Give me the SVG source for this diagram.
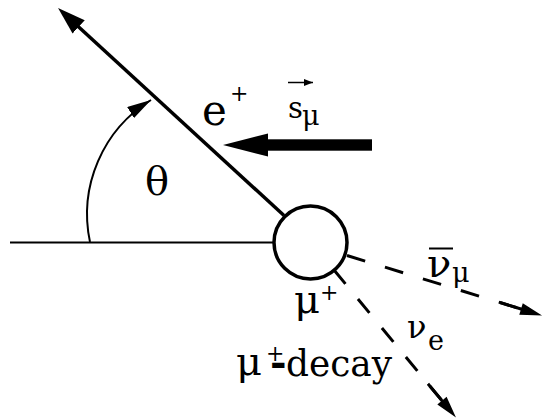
<svg xmlns="http://www.w3.org/2000/svg" width="544" height="420" viewBox="0 0 544 420">
<style>
.t{font-family:'DejaVu Serif',serif;fill:#000}
.ln{fill:none;stroke:#000;stroke-linecap:butt}
.dash{fill:none;stroke:#000;stroke-width:3}
</style>
<defs>
<marker id="ahMain" markerUnits="userSpaceOnUse" viewBox="0 0 28 18" markerWidth="28" markerHeight="18" refX="18" refY="9" orient="auto">
<path d="M0,0 L28,9 L0,18 z" fill="#000"/>
</marker>
<marker id="ahArc" markerUnits="userSpaceOnUse" viewBox="0 0 24 13" markerWidth="24" markerHeight="13" refX="24" refY="6.5" orient="auto">
<path d="M0,0 L24,6.5 L0,13 z" fill="#000"/>
</marker>
<marker id="ahDash" markerUnits="userSpaceOnUse" viewBox="0 0 44 14" markerWidth="44" markerHeight="14" refX="34" refY="7" orient="auto">
<path d="M0,5.5 H22 V1 L44,7 L22,13 V8.5 H0 z" fill="#000"/>
</marker>
<marker id="ahSmall" markerUnits="userSpaceOnUse" viewBox="0 0 9 7" markerWidth="9" markerHeight="7" refX="9" refY="3.5" orient="auto">
<path d="M0,0 L9,3.5 L0,7 z" fill="#000"/>
</marker>
</defs>

<g id="connectors">
<line id="baseline" class="ln" x1="10" y1="242.5" x2="275" y2="242.5" stroke-width="2"/>
<line id="positron" class="ln" x1="284" y1="215.5" x2="65.4" y2="14.8" stroke-width="3.5" marker-end="url(#ahMain)"/>
<path id="angle-arc" class="ln" d="M90,242 A134,134 0 0 1 151,100" stroke-width="2" marker-end="url(#ahArc)"/>
<g id="spin-arrow">
<rect x="266" y="139.3" width="106" height="11.4" fill="#000"/>
<polygon points="223,145 268,133.5 268,156.5" fill="#000"/>
</g>
<path id="numu-line" class="dash" d="M347,255.5 L532.5,312.5" stroke-dasharray="19 20.7" marker-end="url(#ahDash)"/>
<path id="nue-line" class="dash" d="M334,270 L449.6,409.9" stroke-dasharray="18 19.6" marker-end="url(#ahDash)"/>
<line id="spin-vec" class="ln" x1="288" y1="82.5" x2="313" y2="82.5" stroke-width="1.5" marker-end="url(#ahSmall)"/>
</g>

<g id="muon">
<circle cx="310.5" cy="242.5" r="36.5" fill="#fff" stroke="#000" stroke-width="3.5"/>
</g>

<g id="labels">
<text class="t" x="202" y="125" font-size="42">e</text>
<text class="t" x="230" y="101" font-size="22">+</text>
<text class="t" x="288" y="118" font-size="29">s</text>
<text class="t" x="302" y="125" font-size="27">μ</text>
<text class="t" x="145" y="195" font-size="40">θ</text>
<text class="t" x="294" y="313" font-size="40">μ</text>
<text class="t" x="320" y="300" font-size="22">+</text>
<text class="t" x="427" y="277" font-size="40">ν</text>
<line class="ln" x1="429" y1="248.5" x2="453" y2="248.5" stroke-width="2"/>
<text class="t" x="452" y="282" font-size="27">μ</text>
<text class="t" x="407" y="338" font-size="32">ν</text>
<text class="t" x="428" y="350" font-size="27">e</text>
<text class="t" x="236" y="375" font-size="40">μ<tspan x="266" y="361" font-size="22">+</tspan><tspan x="270" y="376" font-size="40" font-weight="bold">-</tspan><tspan x="286" y="376" font-size="37" textLength="106" lengthAdjust="spacingAndGlyphs">decay</tspan></text>
</g>
</svg>
